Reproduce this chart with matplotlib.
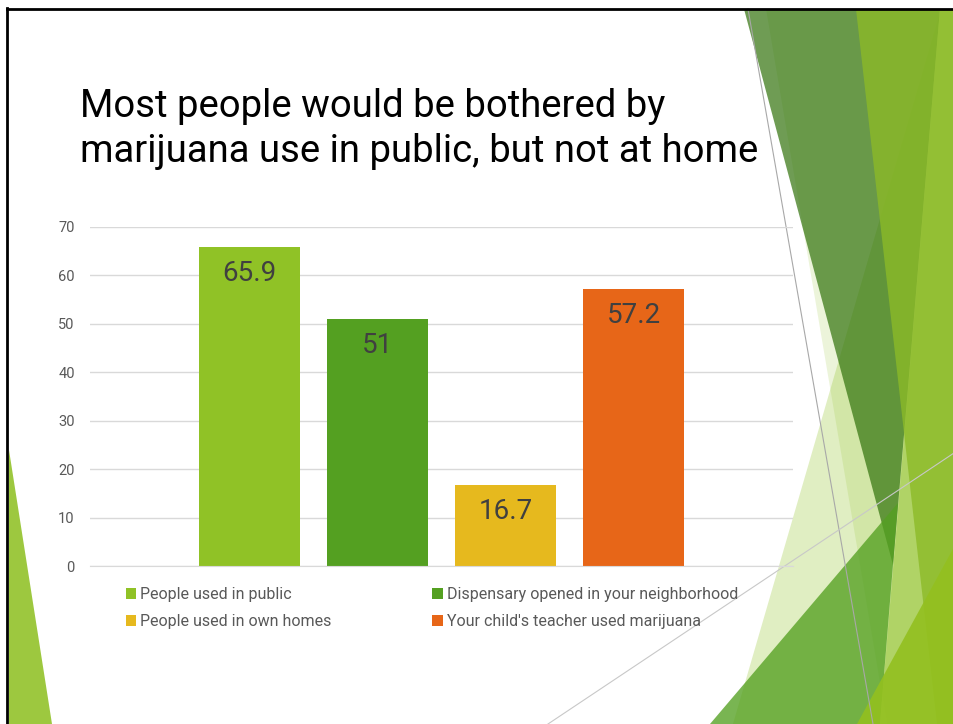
import numpy as np
import matplotlib
matplotlib.use('Agg')
from matplotlib import pyplot as plt
from matplotlib.patches import Polygon

plt.rcParams['font.family'] = ['Roboto', 'DejaVu Sans']

series = ['People used in public', 'Dispensary opened in your neighborhood',
          'People used in own homes', "Your child's teacher used marijuana"]
values = [65.9, 51, 16.7, 57.2]
colors = ['#90C226', '#54A021', '#E6B91E', '#E76618']
yticks = [0, 10, 20, 30, 40, 50, 60, 70]
title = 'Most people would be bothered by\nmarijuana use in public, but not at home'

W, H = 954, 724
fig = plt.figure(figsize=(W / 100, H / 100), dpi=100)

# slide background with the theme's translucent green facets, in pixel units
bg = fig.add_axes([0, 0, 1, 1], zorder=0)
bg.set_xlim(0, W)
bg.set_ylim(H, 0)
bg.axis('off')

facets = [
    ([(733, 724), (941, 9), (954, 9), (954, 724)], '#90C226', 0.28),
    ([(766, 9), (954, 9), (954, 724), (887, 724)], '#90C226', 0.17),
    ([(744, 9), (940, 9), (893, 565)], '#32730C', 0.70),
    ([(710, 724), (898, 503), (880, 724)], '#54A021', 0.78),
    ([(940, 9), (954, 9), (954, 724), (880, 724)], '#90C226', 0.5),
    ([(856, 9), (954, 9), (954, 724), (937, 724)], '#8CBA27', 0.79),
    ([(857, 724), (954, 547), (954, 724)], '#93C01F', 0.9),
    ([(9, 450), (9, 724), (52, 724)], '#9DC83F', 1.0),
]
for pts, c, a in facets:
    bg.add_patch(Polygon(pts, closed=True, facecolor=c, edgecolor='none', alpha=a))

# thin connector lines
bg.plot([748, 873], [9, 724], color='#A8A8A8', lw=0.8)
bg.plot([548, 954], [724, 453], color='#C8C8C8', lw=0.8)

# slide frame
bg.plot([7.5, 7.5], [8, 724], color='black', lw=2)
bg.plot([7, 954], [8.5, 8.5], color='black', lw=2)

fig.text(80 / W, 1 - 88 / H, title, ha='left', va='top', fontsize=27.5,
         color='black', linespacing=1.28)

ax = fig.add_axes([90 / W, 1 - 566 / H, 703 / W, (566 - 227) / H], zorder=1)
ax.patch.set_visible(False)

pitch = 1.27
x = np.arange(len(values)) * pitch
bars = []
for xi, v, c, s in zip(x, values, colors, series):
    b = ax.bar(xi, v, width=1.0, color=c, label=s, zorder=2)
    bars.append(b)
    ax.annotate(f'{v:g}', (xi, v), xytext=(0, -19), textcoords='offset points',
                ha='center', va='center', fontsize=20, color='#404040', zorder=3)

ax.set_xlim(-1.58, x[-1] + 1.58)
ax.set_ylim(0, 70)
ax.set_yticks(yticks)
ax.set_xticks([])
ax.tick_params(axis='y', length=0, pad=11, labelsize=10.5, labelcolor='#595959')
ax.grid(axis='y', color='#D9D9D9', lw=1, zorder=0)
for side in ['top', 'right', 'left']:
    ax.spines[side].set_visible(False)
ax.spines['bottom'].set_color('#D9D9D9')

order = [0, 2, 1, 3]
handles = [bars[i] for i in order]
labels = [series[i] for i in order]
leg = fig.legend(handles, labels, ncol=2, loc='upper left',
                 bbox_to_anchor=(126 / W, 1 - 587 / H), frameon=False,
                 fontsize=11.5, handlelength=0.65, handleheight=0.65,
                 handletextpad=0.25, columnspacing=6.3, labelspacing=0.75,
                 borderaxespad=0, borderpad=0)
for t in leg.get_texts():
    t.set_color('#595959')

fig.savefig('out.png', dpi=100, facecolor='white')
